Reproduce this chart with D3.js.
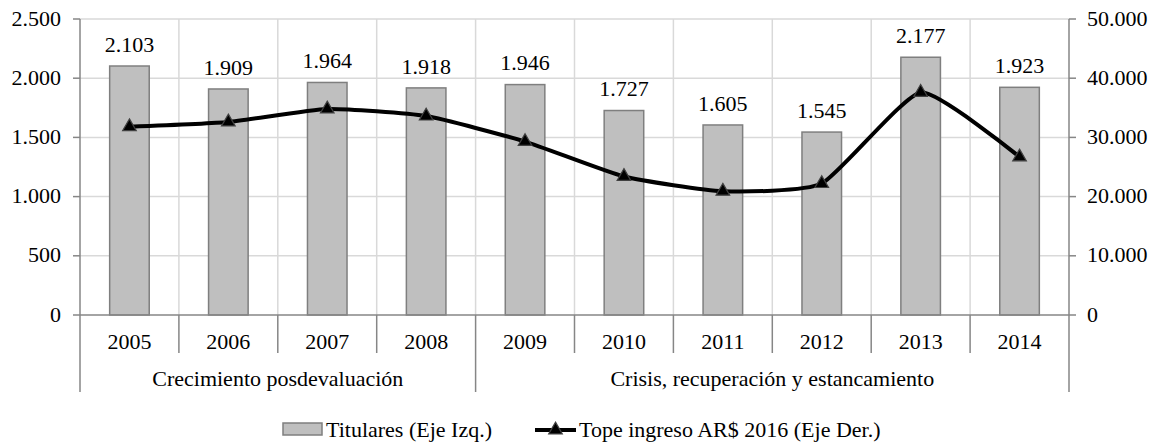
<!DOCTYPE html>
<html>
<head>
<meta charset="utf-8">
<script src="https://cdn.jsdelivr.net/npm/d3@7/dist/d3.min.js"></script>
<style>
  body { margin: 0; background: #fff; }
  #chart { position: relative; width: 1153px; height: 444px; }
  #chart svg { position: absolute; left: 0; top: 0; }
  .lbl { position: absolute; white-space: nowrap; font-family: "Liberation Serif", "Times New Roman", serif;
         font-size: 22px; line-height: 22px; color: #000; }
</style>
</head>
<body>
<div id="chart"></div>
<script>
var years = ["2005", "2006", "2007", "2008", "2009", "2010", "2011", "2012", "2013", "2014"];
var titulares = [2103, 1909, 1964, 1918, 1946, 1727, 1605, 1545, 2177, 1923];
var tope = [31800, 32600, 34800, 33600, 29300, 23400, 20900, 22200, 37600, 26700];
var leftTicks = [0, 500, 1000, 1500, 2000, 2500];
var rightTicks = [0, 10000, 20000, 30000, 40000, 50000];
var groups = [
  {name: "Crecimiento posdevaluación", from: "2005", to: "2008"},
  {name: "Crisis, recuperación y estancamiento", from: "2009", to: "2014"}
];
var legendLabels = ["Titulares (Eje Izq.)", "Tope ingreso AR$ 2016 (Eje Der.)"];

var width = 1153,
    height = 444;
var plotLeft = 80, plotRight = 1069, plotTop = 19, plotBottom = 315;
var ascent = 18.4; // baseline offset of a 22px Liberation Serif line
var fmt = function(v) { return d3.format(",")(v).replace(/,/g, "."); };

var chart = d3.select("#chart");
var svg = chart.append("svg")
    .attr("width", width)
    .attr("height", height);

// html text layer (serif text)
function label(xPos, baseline, txt, anchor) {
    var shift = anchor === "middle" ? "-50%" : (anchor === "end" ? "-100%" : "0");
    chart.append("div")
        .attr("class", "lbl")
        .style("left", xPos + "px")
        .style("top", (baseline - ascent) + "px")
        .style("transform", "translateX(" + shift + ")")
        .text(txt);
}

var x = d3.scaleBand().domain(years).range([plotLeft, plotRight]).paddingInner(0).paddingOuter(0);
var yL = d3.scaleLinear().domain([0, 2500]).range([plotBottom, plotTop]);
var yR = d3.scaleLinear().domain([0, 50000]).range([plotBottom, plotTop]);
var barW = x.bandwidth() * 0.4;
var mid = function(d) { return x(d) + x.bandwidth() / 2; };

// gridlines
svg.append("g").selectAll("line")
    .data(leftTicks.filter(function(d) { return d > 0; }))
  .enter().append("line")
    .attr("x1", plotLeft).attr("x2", plotRight)
    .attr("y1", function(d) { return yL(d); })
    .attr("y2", function(d) { return yL(d); })
    .style("stroke", "#d9d9d9").style("stroke-width", 1.5);

svg.append("g").selectAll("line")
    .data(years.slice(1))
  .enter().append("line")
    .attr("x1", function(d) { return x(d); })
    .attr("x2", function(d) { return x(d); })
    .attr("y1", plotTop).attr("y2", plotBottom)
    .style("stroke", "#d9d9d9").style("stroke-width", 1.5);

// bars
svg.append("g").selectAll("rect")
    .data(years)
  .enter().append("rect")
    .attr("x", function(d) { return x(d) + (x.bandwidth() - barW) / 2; })
    .attr("y", function(d, i) { return yL(titulares[i]); })
    .attr("width", barW)
    .attr("height", function(d, i) { return plotBottom - yL(titulares[i]); })
    .style("fill", "#bfbfbf")
    .style("stroke", "#7f7f7f")
    .style("stroke-width", 1.5);

// bar labels
years.forEach(function(d, i) {
    label(mid(d), yL(titulares[i]) - 14, fmt(titulares[i]), "middle");
});

// axes lines
var axisColor = "#868686";
svg.append("line").attr("x1", plotLeft).attr("x2", plotRight).attr("y1", plotBottom).attr("y2", plotBottom)
    .style("stroke", axisColor).style("stroke-width", 1.5);
svg.append("line").attr("x1", plotLeft).attr("x2", plotLeft).attr("y1", plotTop).attr("y2", 392)
    .style("stroke", axisColor).style("stroke-width", 1.5);
svg.append("line").attr("x1", plotRight).attr("x2", plotRight).attr("y1", plotTop).attr("y2", 392)
    .style("stroke", axisColor).style("stroke-width", 1.5);

// left axis ticks + labels
svg.append("g").selectAll("line")
    .data(leftTicks)
  .enter().append("line")
    .attr("x1", plotLeft - 7).attr("x2", plotLeft)
    .attr("y1", function(d) { return yL(d); }).attr("y2", function(d) { return yL(d); })
    .style("stroke", axisColor).style("stroke-width", 1.5);
leftTicks.forEach(function(d) { label(61, yL(d) + 7, fmt(d), "end"); });

// right axis ticks + labels
svg.append("g").selectAll("line")
    .data(rightTicks)
  .enter().append("line")
    .attr("x1", plotRight).attr("x2", plotRight + 7)
    .attr("y1", function(d) { return yR(d); }).attr("y2", function(d) { return yR(d); })
    .style("stroke", axisColor).style("stroke-width", 1.5);
rightTicks.forEach(function(d) { label(1087, yR(d) + 7, fmt(d), "start"); });

// category separators
svg.append("g").selectAll("line")
    .data(years.slice(1))
  .enter().append("line")
    .attr("x1", function(d) { return x(d); })
    .attr("x2", function(d) { return x(d); })
    .attr("y1", plotBottom)
    .attr("y2", function(d) {
        return groups.some(function(g) { return g.from === d; }) ? 392 : 353;
    })
    .style("stroke", axisColor).style("stroke-width", 1.5);

years.forEach(function(d) { label(mid(d), 349, d, "middle"); });
groups.forEach(function(g) {
    label((x(g.from) + x(g.to) + x.bandwidth()) / 2, 386, g.name, "middle");
});

// line series
var line = d3.line()
    .x(function(d, i) { return mid(years[i]); })
    .y(function(d) { return yR(d); })
    .curve(d3.curveCardinal.tension(0.5));

svg.append("path")
    .datum(tope)
    .attr("d", line)
    .style("fill", "none")
    .style("stroke", "#000")
    .style("stroke-width", 4);

var tri = d3.symbol().type(d3.symbolTriangle).size(80);
svg.append("g").selectAll("path")
    .data(tope)
  .enter().append("path")
    .attr("d", tri)
    .attr("transform", function(d, i) {
        return "translate(" + mid(years[i]) + "," + yR(d) + ")";
    })
    .style("fill", "#000")
    .style("stroke", "#404040")
    .style("stroke-width", 1.2);

// legend
var leg = svg.append("g");
leg.append("rect")
    .attr("x", 283).attr("y", 423).attr("width", 39).attr("height", 12)
    .style("fill", "#bfbfbf").style("stroke", "#7f7f7f").style("stroke-width", 1.5);
leg.append("line")
    .attr("x1", 535).attr("x2", 576).attr("y1", 430).attr("y2", 430)
    .style("stroke", "#000").style("stroke-width", 4);
leg.append("path")
    .attr("d", tri)
    .attr("transform", "translate(555.5,430)")
    .style("fill", "#000").style("stroke", "#404040").style("stroke-width", 1.2);
label(326, 437, legendLabels[0], "start");
label(579, 437, legendLabels[1], "start");
</script>
</body>
</html>
